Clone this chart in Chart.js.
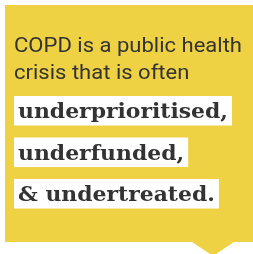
<!DOCTYPE html>
<html>
<head>
<meta charset="utf-8">
<script src="https://cdn.jsdelivr.net/npm/chart.js@4"></script>
<style>
  html, body { margin: 0; padding: 0; background: #fff; }
  #wrap { width: 253px; height: 254px; }
</style>
</head>
<body>
<div id="wrap"><canvas id="card" width="253" height="254"></canvas></div>
<script>
// text content of the card
const introLines = ["COPD is a public health", "crisis that is often"];
const highlightWords = ["underprioritised,", "underfunded,", "& undertreated."];

const YELLOW = "#efd244";
const INK = "#333333";

// draws the yellow speech-bubble card and its text
const cardPlugin = {
  id: "card",
  beforeDraw(chart) {
    const ctx = chart.ctx;
    ctx.save();
    ctx.fillStyle = "#fff";
    ctx.fillRect(0, 0, chart.width, chart.height);
    ctx.fillStyle = YELLOW;
    ctx.beginPath();
    ctx.moveTo(5, 5);
    ctx.lineTo(253, 5);
    ctx.lineTo(253, 242);
    ctx.lineTo(234, 242);
    ctx.lineTo(213, 256);
    ctx.lineTo(192, 242);
    ctx.lineTo(5, 242);
    ctx.closePath();
    ctx.fill();
    ctx.restore();
  },
  afterDraw(chart) {
    const ctx = chart.ctx;
    ctx.save();
    ctx.textBaseline = "alphabetic";
    ctx.fillStyle = INK;
    ctx.font = "400 21px Roboto";
    // stretch so the first line runs across the card like the original
    const sx = 228 / ctx.measureText(introLines[0]).width;
    introLines.forEach((t, i) => {
      ctx.save();
      ctx.translate(14, 52 + i * 27);
      ctx.scale(sx, 1);
      ctx.fillText(t, 0, 0);
      ctx.restore();
    });

    ctx.font = "bold 20px 'DejaVu Serif'";
    const hx = 210 / ctx.measureText(highlightWords[0]).width;
    highlightWords.forEach((t, i) => {
      const top = 96 + i * 41.5;
      const w = ctx.measureText(t).width * hx;
      ctx.fillStyle = "#fff";
      ctx.fillRect(14, top, w + 8, 29.5);
      ctx.fillStyle = INK;
      ctx.save();
      ctx.translate(18, top + 22);
      ctx.scale(hx, 1);
      ctx.fillText(t, 0, 0);
      ctx.restore();
    });
    ctx.restore();
  }
};

new Chart(document.getElementById("card"), {
  type: "bar",
  data: { labels: highlightWords, datasets: [{ data: [] }] },
  options: {
    responsive: false,
    animation: false,
    events: [],
    plugins: { legend: { display: false }, tooltip: { enabled: false } },
    scales: { x: { display: false }, y: { display: false } }
  },
  plugins: [cardPlugin]
});
</script>
</body>
</html>
